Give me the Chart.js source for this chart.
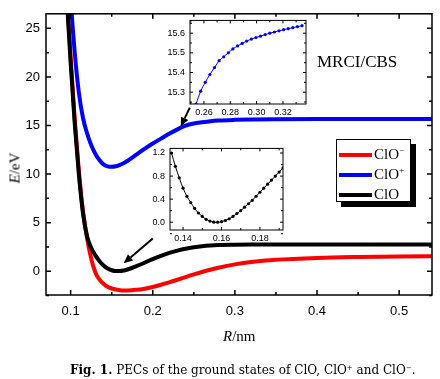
<!DOCTYPE html>
<html>
<head>
<meta charset="utf-8">
<script src="https://cdn.jsdelivr.net/npm/chart.js@4.4.0/dist/chart.umd.min.js"></script>
<style>
body { margin: 0; background: #fff; }
#wrap { position: relative; width: 440px; height: 379px; overflow: hidden; font-family: "Liberation Serif", serif; color: #000; }
canvas { position: absolute; }
#method { position: absolute; left: 317px; top: 52px; font-size: 17px; white-space: nowrap; }
#legend { position: absolute; left: 336px; top: 139px; width: 73px; height: 61px; border: 1px solid #000; background: #fff; box-shadow: 5px 5px 0 #000; }
#legend .row { position: absolute; left: 2px; height: 18px; white-space: nowrap; font-size: 15px; line-height: 18px; }
#legend .swatch { display: inline-block; width: 33px; height: 4px; vertical-align: middle; margin-right: 2px; position: relative; top: -1px; }
#legend sup { font-size: 9px; vertical-align: 6px; line-height: 0; }
#ylab { position: absolute; left: 15px; top: 168px; font-size: 15px; color: #000; transform: translate(-50%, -50%) rotate(-90deg); white-space: nowrap; }
#xlab { position: absolute; left: 223px; top: 328px; font-size: 15px; white-space: nowrap; }
#caption { position: absolute; left: 70px; top: 363px; font-family: "DejaVu Serif", serif; font-size: 12px; white-space: nowrap; }
#caption sup { font-size: 7px; vertical-align: 4px; line-height: 0; }
</style>
</head>
<body>
<div id="wrap">
  <canvas id="mainChart" width="440" height="379" style="left:0;top:0;width:440px;height:379px"></canvas>
  <canvas id="inset1" width="150" height="112" style="left:160px;top:10px;width:150px;height:112px"></canvas>
  <canvas id="inset2" width="148" height="106" style="left:140px;top:138px;width:148px;height:106px"></canvas>
  <div id="method">MRCI/CBS</div>
  <div id="legend">
    <div class="row" style="top:5px"><span class="swatch" style="background:#ff0000"></span>ClO<sup>&minus;</sup></div>
    <div class="row" style="top:25px"><span class="swatch" style="background:#0000ff"></span>ClO<sup>+</sup></div>
    <div class="row" style="top:45px"><span class="swatch" style="background:#000"></span>ClO</div>
  </div>
  <div id="ylab"><i>E</i>/eV</div>
  <div id="xlab"><i>R</i>/nm</div>
  <div id="caption"><b>Fig. 1.</b> PECs of the ground states of ClO, ClO<sup>+</sup> and ClO<sup>&minus;</sup>.</div>
</div>
<script>
// bond length R (nm), shared by the three main curves
const rValues = [0.09, 0.095, 0.1, 0.105, 0.11, 0.115, 0.12, 0.125, 0.13, 0.135,
  0.14, 0.145, 0.15, 0.155, 0.16, 0.165, 0.17, 0.18, 0.19, 0.2,
  0.21, 0.22, 0.23, 0.24, 0.25, 0.26, 0.27, 0.28, 0.3, 0.32,
  0.35, 0.4, 0.45, 0.5, 0.55];

// energies (eV)
const eClO = [36, 28.5, 21.5, 15.2, 10.0, 6.0, 3.6, 2.4, 1.65, 1.05,
  0.58, 0.28, 0.1, 0.015, 0.01, 0.08, 0.2, 0.52, 0.87, 1.25,
  1.58, 1.88, 2.12, 2.32, 2.47, 2.58, 2.65, 2.69, 2.72, 2.74,
  2.75, 2.75, 2.75, 2.75, 2.75];
const eClOminus = [37, 29, 22, 15.6, 10.3, 6.2, 3.4, 1.3, -0.1, -0.85,
  -1.3, -1.6, -1.78, -1.89, -1.95, -1.98, -1.98, -1.92, -1.8, -1.62,
  -1.4, -1.15, -0.88, -0.6, -0.33, -0.08, 0.15, 0.36, 0.7, 0.95,
  1.18, 1.37, 1.46, 1.51, 1.54];
const eClOplus = [50, 38, 28.3, 22.5, 18.4, 15.8, 14.2, 13.0, 12.1, 11.45,
  11.0, 10.8, 10.75, 10.8, 10.95, 11.15, 11.4, 12.0, 12.6, 13.15,
  13.65, 14.15, 14.6, 14.98, 15.2, 15.33, 15.44, 15.51, 15.58, 15.62,
  15.645, 15.66, 15.665, 15.67, 15.67];

// inset 1: ClO+ near dissociation
const rInset1 = [0.254, 0.2575, 0.261, 0.2645, 0.268, 0.2715, 0.275, 0.2785, 0.282, 0.2855,
  0.289, 0.2925, 0.296, 0.2995, 0.303, 0.3065, 0.31, 0.3135, 0.317, 0.3205,
  0.324, 0.3275, 0.331, 0.3345];
const eInset1 = [15.24, 15.305, 15.35, 15.39, 15.425, 15.46, 15.48, 15.5, 15.52, 15.535,
  15.548, 15.56, 15.57, 15.578, 15.585, 15.593, 15.6, 15.606, 15.612, 15.618,
  15.623, 15.628, 15.633, 15.638];

// inset 2: ClO around the minimum
const rInset2 = [0.134, 0.136, 0.138, 0.14, 0.142, 0.144, 0.146, 0.148, 0.15, 0.152,
  0.154, 0.156, 0.158, 0.16, 0.162, 0.164, 0.166, 0.168, 0.17, 0.172,
  0.174, 0.176, 0.178, 0.18, 0.182, 0.184, 0.186, 0.188, 0.19, 0.192];
const eInset2 = [1.2, 0.97, 0.77, 0.59, 0.45, 0.34, 0.24, 0.16, 0.1, 0.05,
  0.02, 0.0, 0.0, 0.01, 0.03, 0.06, 0.1, 0.15, 0.2, 0.26,
  0.32, 0.38, 0.45, 0.52, 0.59, 0.66, 0.73, 0.8, 0.87, 0.94];

// tick values
const mainXTicks = [0.1, 0.2, 0.3, 0.4, 0.5];
const mainXMinor = [0.15, 0.25, 0.35, 0.45];
const mainYTicks = [0, 5, 10, 15, 20, 25];
const mainYMinor = [-2.5, 2.5, 7.5, 12.5, 17.5, 22.5];
const in1XTicks = [0.26, 0.28, 0.30, 0.32];
const in1XMinor = [0.25, 0.27, 0.29, 0.31, 0.33];
const in1YTicks = [15.3, 15.4, 15.5, 15.6];
const in1YMinor = [15.25, 15.35, 15.45, 15.55, 15.65];
const in2XTicks = [0.14, 0.16, 0.18];
const in2XMinor = [0.15, 0.17, 0.19];
const in2YTicks = [0.0, 0.4, 0.8, 1.2];
const in2YMinor = [-0.2, 0.2, 0.6, 1.0];

function pairs(xs, ys) {
  return xs.map((x, i) => ({ x: x, y: ys[i] }));
}

// frame with inward ticks on all four sides
const frameTicks = {
  id: 'frameTicks',
  beforeDraw(chart, args, opts) {
    if (!opts.fill) return;
    const a = chart.chartArea;
    chart.ctx.save();
    chart.ctx.fillStyle = '#fff';
    chart.ctx.fillRect(a.left, a.top, a.right - a.left, a.bottom - a.top);
    chart.ctx.restore();
  },
  afterDraw(chart, args, opts) {
    const { ctx, chartArea: a, scales: { x, y } } = chart;
    ctx.save();
    ctx.strokeStyle = '#000';
    ctx.lineWidth = opts.width;
    ctx.beginPath();
    const tick = (vals, len) => {
      vals.forEach(v => {
        const px = x.getPixelForValue(v);
        ctx.moveTo(px, a.bottom); ctx.lineTo(px, a.bottom - len);
        ctx.moveTo(px, a.top); ctx.lineTo(px, a.top + len);
      });
    };
    const tickY = (vals, len) => {
      vals.forEach(v => {
        const py = y.getPixelForValue(v);
        ctx.moveTo(a.left, py); ctx.lineTo(a.left + len, py);
        ctx.moveTo(a.right, py); ctx.lineTo(a.right - len, py);
      });
    };
    tick(opts.xMajor, opts.major);
    tick(opts.xMinor, opts.minor);
    tickY(opts.yMajor, opts.major);
    tickY(opts.yMinor, opts.minor);
    ctx.stroke();
    ctx.strokeRect(a.left, a.top, a.right - a.left, a.bottom - a.top);
    ctx.restore();
  }
};

// arrows given in data coordinates
const arrows = {
  id: 'arrows',
  afterDatasetsDraw(chart, args, opts) {
    if (!opts.list) return;
    const { ctx, scales: { x, y } } = chart;
    ctx.save();
    ctx.strokeStyle = '#000';
    ctx.fillStyle = '#000';
    ctx.lineWidth = 2;
    opts.list.forEach(ar => {
      const x0 = x.getPixelForValue(ar.from[0]), y0 = y.getPixelForValue(ar.from[1]);
      const x1 = x.getPixelForValue(ar.to[0]), y1 = y.getPixelForValue(ar.to[1]);
      const ang = Math.atan2(y1 - y0, x1 - x0);
      const hl = 9, hw = 4;
      const bx = x1 - hl * Math.cos(ang), by = y1 - hl * Math.sin(ang);
      ctx.beginPath();
      ctx.moveTo(x0, y0); ctx.lineTo(bx, by);
      ctx.stroke();
      ctx.beginPath();
      ctx.moveTo(x1, y1);
      ctx.lineTo(bx + hw * Math.sin(ang), by - hw * Math.cos(ang));
      ctx.lineTo(bx - hw * Math.sin(ang), by + hw * Math.cos(ang));
      ctx.closePath();
      ctx.fill();
    });
    ctx.restore();
  }
};

Chart.defaults.font.family = '"Liberation Sans", Arial, sans-serif';
Chart.defaults.color = '#000';

function curve(label, ys, color, order) {
  return {
    label: label,
    data: pairs(rValues, ys),
    borderColor: color,
    backgroundColor: color,
    borderWidth: 4,
    pointRadius: 0,
    cubicInterpolationMode: 'monotone',
    clip: 0,
    order: order
  };
}

new Chart(document.getElementById('mainChart'), {
  type: 'line',
  data: {
    datasets: [
      curve('ClO-', eClOminus, '#ff0000', 3),
      curve('ClO+', eClOplus, '#0000ff', 2),
      curve('ClO', eClO, '#000000', 1)
    ]
  },
  options: {
    responsive: false,
    animation: false,
    layout: { padding: { left: 0, top: 12, right: 8, bottom: 54 } },
    scales: {
      x: {
        type: 'linear', min: 0.07, max: 0.54,
        grid: { display: false, drawTicks: false },
        border: { display: false },
        afterBuildTicks: s => { s.ticks = mainXTicks.map(v => ({ value: v })); },
        afterFit: s => { s.height = 30; },
        ticks: { padding: 9, font: { size: 13 }, callback: v => v.toFixed(1) }
      },
      y: {
        type: 'linear', min: -2.45, max: 26.5,
        grid: { display: false, drawTicks: false },
        border: { display: false },
        afterBuildTicks: s => { s.ticks = mainYTicks.map(v => ({ value: v })); },
        afterFit: s => { s.width = 46; },
        ticks: { padding: 6, font: { size: 13 }, callback: v => String(v) }
      }
    },
    plugins: {
      legend: { display: false },
      tooltip: { enabled: false },
      frameTicks: { width: 1.5, major: 5, minor: 3, xMajor: mainXTicks, xMinor: mainXMinor, yMajor: mainYTicks, yMinor: mainYMinor },
      arrows: { list: [
        { from: [0.2451, 16.84], to: [0.2341, 14.9] },
        { from: [0.2, 3.37], to: [0.1646, 0.82] }
      ] }
    }
  },
  plugins: [frameTicks, arrows]
});

function insetChart(id, xs, ys, color, xr, yr, pad, xTicks, xMinor, yTicks, yMinor, xDec, xh) {
  return new Chart(document.getElementById(id), {
    type: 'line',
    data: {
      datasets: [{
        data: pairs(xs, ys),
        borderColor: color,
        backgroundColor: color,
        borderWidth: 1,
        pointRadius: 1.6,
        pointBorderWidth: 0,
        cubicInterpolationMode: 'monotone',
        clip: 0
      }]
    },
    options: {
      responsive: false,
      animation: false,
      layout: { padding: pad },
      scales: {
        x: {
          type: 'linear', min: xr[0], max: xr[1],
          grid: { display: false, drawTicks: false },
          border: { display: false },
          afterBuildTicks: s => { s.ticks = xTicks.map(v => ({ value: v })); },
          afterFit: s => { s.height = xh; },
          ticks: { padding: 3, font: { size: 9 }, callback: v => v.toFixed(xDec) }
        },
        y: {
          type: 'linear', min: yr[0], max: yr[1],
          grid: { display: false, drawTicks: false },
          border: { display: false },
          afterBuildTicks: s => { s.ticks = yTicks.map(v => ({ value: v })); },
          afterFit: s => { s.width = 30; },
          ticks: { padding: 5, font: { size: 9 }, callback: v => v.toFixed(1) }
        }
      },
      plugins: {
        legend: { display: false },
        tooltip: { enabled: false },
        frameTicks: { fill: true, width: 1, major: 3, minor: 2, xMajor: xTicks, xMinor: xMinor, yMajor: yTicks, yMinor: yMinor }
      }
    },
    plugins: [frameTicks]
  });
}

insetChart('inset1', rInset1, eInset1, '#0000ff', [0.2494, 0.3375], [15.24, 15.665],
  { left: 0, top: 9, right: 4, bottom: 0 }, in1XTicks, in1XMinor, in1YTicks, in1YMinor, 2, 18);
insetChart('inset2', rInset2, eInset2, '#000000', [0.1332, 0.192], [-0.135, 1.28],
  { left: 0, top: 8, right: 5, bottom: 0 }, in2XTicks, in2XMinor, in2YTicks, in2YMinor, 2, 14);
</script>
</body>
</html>
